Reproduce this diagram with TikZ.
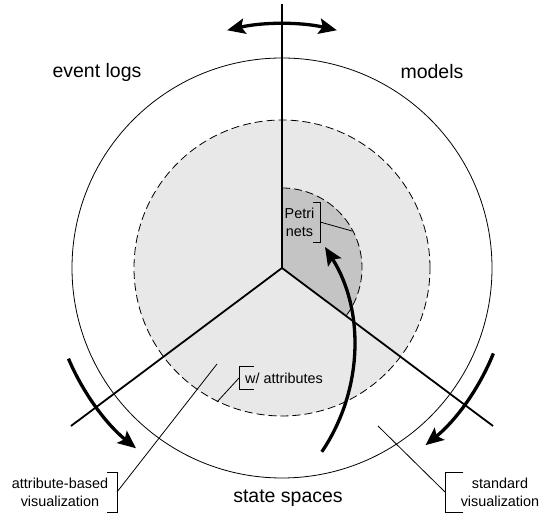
\documentclass[tikz,border=0pt]{standalone}
\usepackage{fontspec}
\setmainfont{Liberation Sans}
\usetikzlibrary{arrows.meta,calc}
\definecolor{lightgr}{RGB}{232,232,232}
\definecolor{darkgr}{RGB}{196,196,196}
\begin{document}
\begin{tikzpicture}[x=1pt,y=1pt,
  spoke/.style={line width=1.8pt},
  bigtip/.tip={Stealth[length=18pt,width=15.5pt,inset=3.5pt]},
  bigarrow/.style={line width=3.3pt},
  leader/.style={line width=0.8pt},
  brack/.style={line width=0.8pt},
  dashring/.style={line width=0.8pt,dash pattern=on 8pt off 4pt},
  biglabel/.style={font=\fontsize{19.5}{23}\selectfont, inner sep=0pt},
  smalllabel/.style={font=\fontsize{14.4}{18}\selectfont, inner sep=0pt, align=center}]
\useasboundingbox (0,0) rectangle (539,513);
\coordinate (c) at (282,245);
\coordinate (top) at (282,509);
\coordinate (ll) at (71,87);
\coordinate (lr) at (493,87);
% rings
\draw[line width=0.8pt] (c) circle (210pt);
\fill[lightgr] (c) circle (148pt);
\fill[darkgr] (c) -- ($(c)+(90:80pt)$) arc (90:-36.8:80pt) -- cycle;
\draw[dashring] (c) circle (148pt);
\draw[dashring] ($(c)+(90:80pt)$) arc (90:-36.8:80pt);
% spokes
\draw[spoke] (c) -- (top);
\draw[spoke] (c) -- (ll);
\draw[spoke] (c) -- (lr);
% arrows
\coordinate (ta) at ($(c)+(77:244pt)$);
\draw[bigarrow,{bigtip}-{bigtip}] (ta) arc (77:103:244pt);
\coordinate (la) at ($(c)+(203:232pt)$);
\draw[bigarrow,-{bigtip}] (la) arc (203:231:232pt);
\coordinate (ra) at ($(c)+(-22:228pt)$);
\draw[bigarrow,-{bigtip}] (ra) arc (-22:-51:228pt);
\coordinate (ma) at (321.8,61.2);
\draw[bigarrow,-{bigtip}] (ma) arc (-34.1:32.3:187pt);
% big labels
\node[biglabel] (ev) at (97,441) {event logs};
\node[biglabel] (mo) at (432,441) {models};
\node[biglabel] (ss) at (288,15) {state spaces};
% Petri nets
\node[smalllabel] (pn) at (299.5,291) {Petri\\nets};
\draw[brack] (313,311) -- (320,311) -- (320,271) -- (313,271);
\coordinate (pb) at (320,291);
\coordinate (pe) at (352,282);
\draw[leader] (pb) -- (pe);
% w/ attributes
\node[smalllabel,anchor=west] (wa) at (245,135) {w/ attributes};
\draw[brack] (254,147) -- (239,147) -- (239,124) -- (254,124);
\coordinate (wb) at (239,135);
\coordinate (we) at (217,111);
\draw[leader] (wb) -- (we);
% attribute-based visualization
\node[smalllabel] (ab) at (60,21) {attribute-based\\visualization};
\draw[brack] (107,41) -- (117,41) -- (117,1) -- (107,1);
\coordinate (abb) at (117,21);
\coordinate (abe) at (217,149);
\draw[leader] (abb) -- (abe);
% standard visualization
\node[smalllabel] (sv) at (500,21) {standard\\visualization};
\draw[brack] (463,41) -- (445,41) -- (445,1) -- (463,1);
\coordinate (svb) at (445,21);
\coordinate (sve) at (378,87);
\draw[leader] (svb) -- (sve);
\end{tikzpicture}
\end{document}
